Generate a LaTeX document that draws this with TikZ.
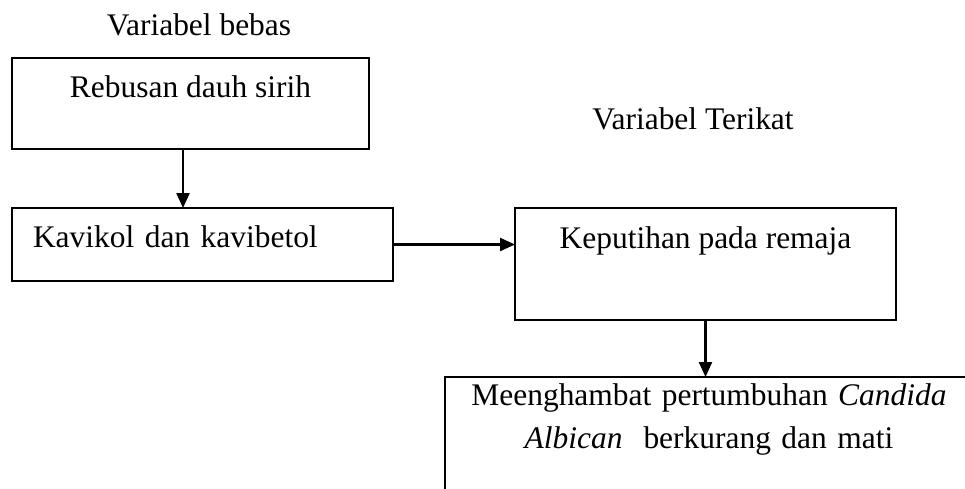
\documentclass[tikz,border=0pt]{standalone}
\usepackage{fontspec}
\setmainfont{Liberation Serif}
\usetikzlibrary{arrows.meta}
\tikzset{
  box/.style = {draw, rectangle, line width=1.3pt,
                inner sep=0pt, outer sep=0pt},
  arr/.style = {-{Triangle[length=0.3cm, width=0.26cm]}, line width=1.3pt}
}

\begin{document}
\begin{tikzpicture}[x=0.02cm, y=-0.02cm, font=\fontsize{17.9pt}{25pt}\selectfont]
	\def \px{0.02cm}
	\useasboundingbox (0,0) rectangle (965,488);
	\clip (0,0) rectangle (965,488);

	% Labels
	\node[anchor=base] (bebas) at (199,35) {Variabel bebas};
	\node[anchor=base] (terikat) at (693,129) {Variabel Terikat};

	% Boxes
	\node[box, anchor=north west, minimum width=357*\px,
	      text height=39*\px, text depth=52*\px] (rebusan) at (12,58) {Rebusan dauh sirih};
	\node[box, anchor=north west, text width=339*\px, inner xsep=21*\px, align=left,
	      text height=39*\px, text depth=34*\px] (kavikol) at (12,208) {Kavikol dan kavibetol};
	\node[box, anchor=north west, minimum width=381*\px,
	      text height=40*\px, text depth=72*\px] (keputihan) at (515,208) {Keputihan pada remaja};
	\node[box, anchor=north west, text width=500*\px, inner xsep=14*\px, align=center,
	      text height=28*\px, text depth=150*\px] (hambat) at (445,377)
	      {Meenghambat pertumbuhan \textit{Candida}\\ \textit{Albican}\ \ berkurang dan mati};

	% Arrows
	\coordinate (a1) at ([xshift=-0.15cm]rebusan.south);
	\draw[arr] (a1) -- (a1 |- kavikol.north);
	\draw[arr] (kavikol.east) -- (kavikol.east -| keputihan.west);
	\draw[arr] (keputihan.south) -- (keputihan.south |- hambat.north);
\end{tikzpicture}
\end{document}
